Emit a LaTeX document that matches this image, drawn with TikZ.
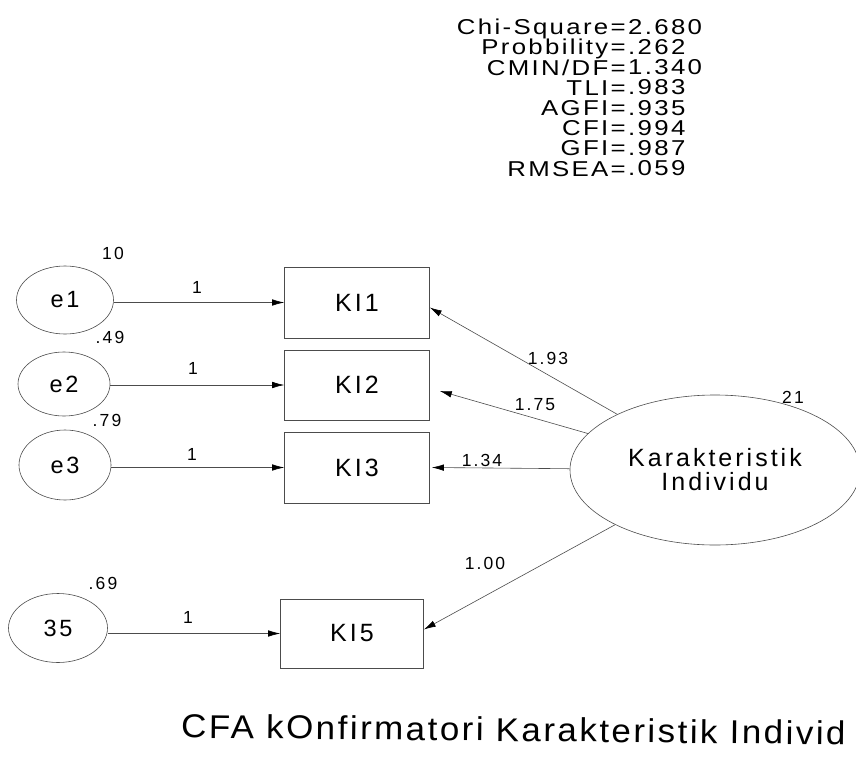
\documentclass[tikz,border=0pt]{standalone}
\usepackage{fontspec}
\setmainfont{Liberation Sans}[LetterSpace=12]
\newfontfamily\statfont{Liberation Sans}[LetterSpace=9]
\newfontfamily\capfont{Liberation Sans}[LetterSpace=7]
\usetikzlibrary{shapes.geometric,arrows.meta}

\tikzset{
  latent/.style={ellipse, draw=black!70, line width=0.6pt, inner sep=0pt,
                 font=\fontsize{23.5}{27}\selectfont},
  observed/.style={rectangle, draw=black!70, line width=0.6pt, inner sep=0pt,
                   minimum width=145pt, minimum height=71pt,
                   font=\fontsize{25}{28}\selectfont},
  regpath/.style={draw=black!70, line width=0.6pt,
                  -{Latex[length=12pt,width=6.5pt,color=black]}},
  est/.style={font=\fontsize{17.5}{20}\selectfont, inner sep=1pt},
  stat/.style={font=\statfont\fontsize{21.5}{20.2}\selectfont, inner sep=0pt,
               xscale=1.2}
}

\begin{document}
\begin{tikzpicture}[x=1pt, y=-1pt]
  \useasboundingbox[fill=white] (0,0) rectangle (856,760);

  % fit indices
  \node[stat, anchor=north east, align=right] (statl) at (626,19)
    {Chi-Square=\\Probbility=\\CMIN/DF=\\TLI=\\AGFI=\\CFI=\\GFI=\\RMSEA=};
  \node[stat, anchor=north west, align=left] (statv) at (628,19)
    {2.680\\.262\\1.340\\.983\\.935\\.994\\.987\\.059};

  % error terms
  \node[latent, minimum width=97pt, minimum height=68pt] (e1) at (65,300) {e1};
  \node[latent, minimum width=92pt, minimum height=64pt] (e2) at (64,384) {e2};
  \node[latent, minimum width=92pt, minimum height=70pt] (e3) at (65,465) {e3};
  \node[latent, minimum width=99pt, minimum height=69pt] (e5) at (58,628) {35};

  % variances
  \node[est] (v1) at (113,253) {10};
  \node[est] (v2) at (110,337) {.49};
  \node[est] (v3) at (107,420) {.79};
  \node[est] (v5) at (103,583) {.69};

  % indicators
  \node[observed] (k1) at (357,302.5) {KI1};
  \node[observed, minimum height=70pt] (k2) at (357,385) {KI2};
  \node[observed] (k3) at (357,467.5) {KI3};
  \node[observed, minimum width=143pt, minimum height=69pt] (k5) at (352,633.5) {KI5};

  % factor
  \node[latent, minimum width=290pt, minimum height=150pt, align=center,
        font=\fontsize{25}{24}\selectfont] (f) at (715,470)
    {Karakteristik\\Individu};
  \node[est] (vf) at (793,397) {21};

  % error paths
  \draw[regpath] (e1.east |- k1.west) -- (k1.west);
  \draw[regpath] (e2.east |- k2.west) -- (k2.west);
  \draw[regpath] (e3.east |- k3.west) -- (k3.west);
  \draw[regpath] (e5.east |- k5.west) -- (k5.west);
  \node[est] (w1) at (197,287) {1};
  \node[est] (w2) at (193,368) {1};
  \node[est] (w3) at (192,454) {1};
  \node[est] (w5) at (188,617) {1};

  % loadings
  \draw[regpath] (f) -- ([yshift=-5pt]k1.east);
  \draw[regpath] (f) -- ([xshift=10pt,yshift=-6pt]k2.east);
  \draw[regpath] (f) -- ([xshift=2pt]k3.east);
  \draw[regpath] (f) -- ([yshift=4pt]k5.east);
  \node[est] (l1) at (548,358) {1.93};
  \node[est] (l2) at (535,405) {1.75};
  \node[est] (l3) at (482,460) {1.34};
  \node[est] (l5) at (485,563) {1.00};

  % caption
  \node[anchor=west, inner sep=0pt, rotate=-0.6, xscale=1.06,
        font=\capfont\fontsize{33}{36}\selectfont] (cap) at (181,726)
    {CFA kOnfirmatori Karakteristik Individ};
\end{tikzpicture}
\end{document}
